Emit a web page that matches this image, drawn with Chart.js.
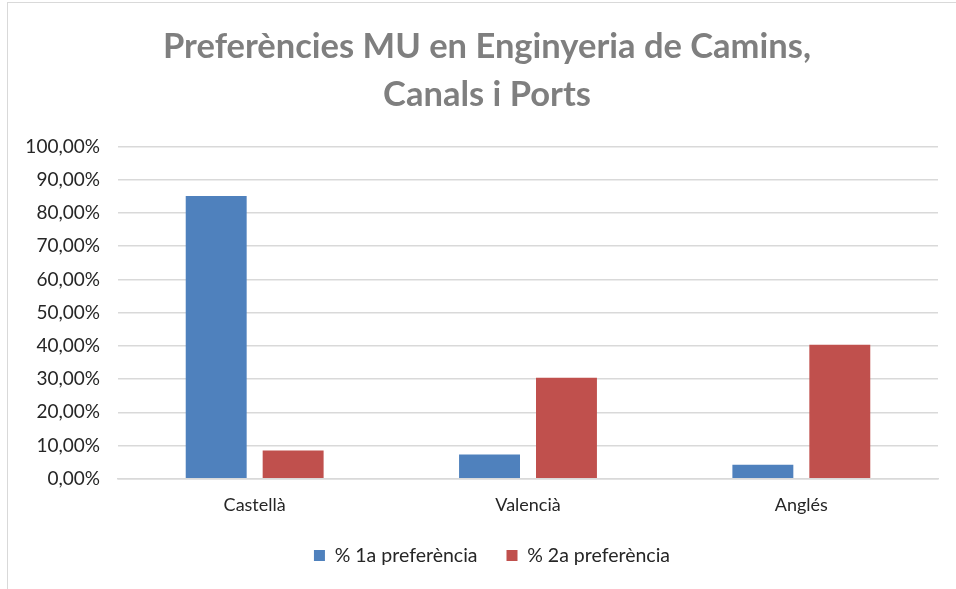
<!DOCTYPE html>
<html>
<head>
<meta charset="utf-8">
<script src="https://cdn.jsdelivr.net/npm/chart.js@4.4.1/dist/chart.umd.min.js"></script>
<style>
  html, body { margin: 0; padding: 0; background: #fff; overflow: hidden; }
  #frame { position: absolute; left: 7px; top: 2px; width: 970px; height: 600px;
           border-left: 1px solid #d9d9d9; border-top: 1px solid #d9d9d9; }
  #wrap { position: absolute; left: 0; top: 0; width: 958px; height: 586px; }
</style>
</head>
<body>
<div id="frame"><div id="wrap"><canvas id="myChart"></canvas></div></div>
<script>
const categories = ['Castellà', 'Valencià', 'Anglés'];
const primera = [85.1, 7.3, 4.2];
const segona = [8.5, 30.4, 40.3];
const seriesNames = ['% 1a preferència', '% 2a preferència'];

const data = {
  labels: categories,
  datasets: [
    {
      label: seriesNames[0],
      backgroundColor: '#4f81bd',
      borderColor: '#4f81bd',
      data: primera,
      categoryPercentage: 0.563,
      barPercentage: 0.792,
    },
    {
      label: seriesNames[1],
      backgroundColor: '#c0504d',
      borderColor: '#c0504d',
      data: segona,
      categoryPercentage: 0.563,
      barPercentage: 0.792,
    },
  ],
};

// title and legend are centred on the whole (wider) chart frame, not the plot
const centreOnFrame = {
  id: 'centreOnFrame',
  afterLayout(chart) {
    chart.titleBlock.right += 28;
    chart.legend.right += 38;
  },
};

const config = {
  type: 'bar',
  data: data,
  plugins: [centreOnFrame],
  options: {
    responsive: true,
    maintainAspectRatio: false,
    animation: false,
    layout: { padding: { left: 0, right: 28, top: 19.5, bottom: 13.75 } },
    plugins: {
      title: {
        display: true,
        text: ['Preferències MU en Enginyeria de Camins,', 'Canals i Ports'],
        color: '#7f7f7f',
        font: { family: 'Lato', size: 34.5, weight: 'bold', lineHeight: 1.4 },
        padding: { top: 0, bottom: 27.4 },
      },
      legend: {
        position: 'bottom',
        labels: {
          color: '#262626',
          font: { family: 'Lato', size: 19.5 },
          boxWidth: 11,
          boxHeight: 11,
          padding: 29,
        },
      },
      tooltip: { enabled: false },
    },
    scales: {
      x: {
        grid: { display: false },
        border: { color: '#d9d9d9', width: 1.5 },
        afterFit: axis => { axis.height = 38; },
        ticks: { color: '#262626', font: { family: 'Lato', size: 18 }, padding: 8 },
      },
      y: {
        min: 0,
        max: 100,
        afterFit: axis => { axis.width = 110; },
        ticks: {
          stepSize: 10,
          color: '#262626',
          font: { family: 'Lato', size: 19 },
          padding: 18,
          callback: v => v.toFixed(2).replace('.', ',') + '%',
        },
        grid: { color: '#d9d9d9', lineWidth: 1.5, drawTicks: false },
        border: { display: false },
      },
    },
  },
};

const myChart = new Chart(document.getElementById('myChart'), config);
</script>
</body>
</html>
